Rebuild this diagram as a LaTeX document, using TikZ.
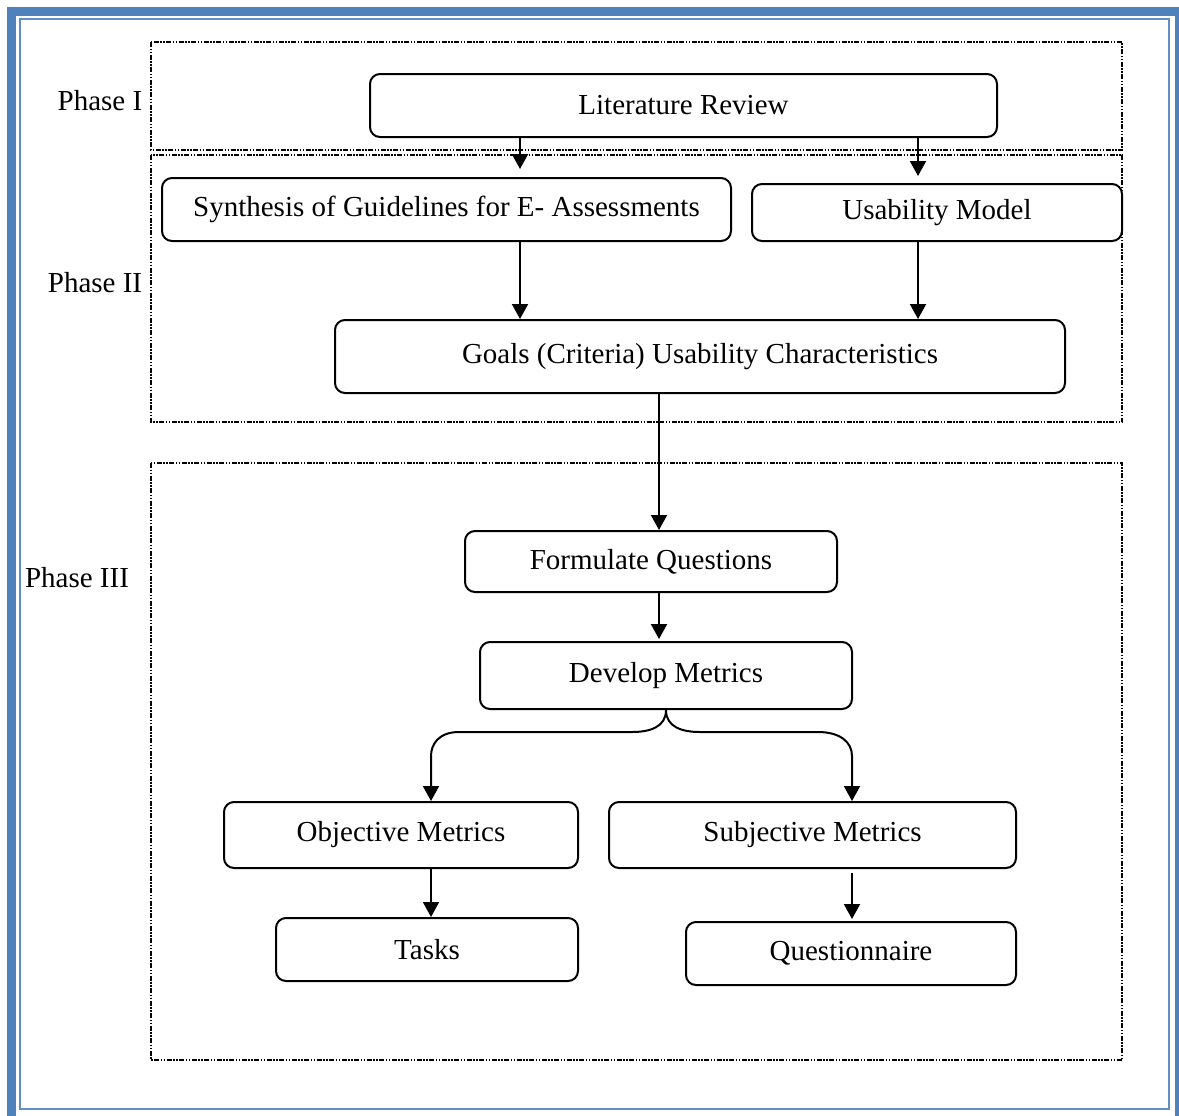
\documentclass[tikz,border=0pt]{standalone}
\usepackage{fontspec}
\setmainfont{Liberation Serif}
\usepackage{xcolor}
\definecolor{frame}{HTML}{4F81BD}
\usepackage{tikz}
\usetikzlibrary{arrows.meta, positioning, calc}

\tikzset{
  stage/.style={draw, line width=1pt, rounded corners=5pt, inner sep=0pt,
    font=\fontsize{14.5}{17}\selectfont},
  phasebox/.style={line width=1pt,
    dash pattern=on 2.5pt off 0.75pt on 0.75pt off 0.75pt on 0.75pt off 0.75pt},
  phaselabel/.style={font=\fontsize{14.5}{17}\selectfont},
  link/.style={line width=1pt, -{Triangle[width=8pt,length=7.5pt]}}
}

\begin{document}
\begin{tikzpicture}[x=0.5pt, y=-0.5pt]
  \useasboundingbox (0,0) rectangle (1179,1115);

  % blue page frame
  \draw[frame, line width=4.5pt] (11.5,11) rectangle (1179,1121);
  \draw[frame!90, line width=1pt] (20,19) rectangle (1169,1109);

  % phase frames
  \draw[phasebox] (151,42) rectangle (1122,150);
  \draw[phasebox] (151,155) rectangle (1122,422);
  \draw[phasebox] (151,463) rectangle (1122,1060);
  \node[phaselabel] (ph1) at (100,101) {Phase I};
  \node[phaselabel] (ph2) at (95,283) {Phase II};
  \node[phaselabel] (ph3) at (77,578) {Phase III};

  % stages
  \node[stage, minimum width=313.5pt, minimum height=31.5pt] (lit) at (683.5,105.5) {Literature Review};
  \node[stage, minimum width=284.5pt, minimum height=31.5pt] (syn) at (446.5,209.5) {Synthesis of Guidelines for E- Assessments};
  \node[stage, minimum width=185pt, minimum height=28.5pt] (usm) at (937,212.5) {\raisebox{-1.5pt}{Usability Model}};
  \node[stage, minimum width=365pt, minimum height=36.5pt] (goals) at (700,356.5) {Goals (Criteria) Usability Characteristics};
  \node[stage, minimum width=186pt, minimum height=30.5pt] (fq) at (651,561.5) {Formulate Questions};
  \node[stage, minimum width=186pt, minimum height=33.5pt] (dm) at (666,675.5) {Develop Metrics};
  \node[stage, minimum width=177pt, minimum height=33pt] (om) at (401,835) {Objective Metrics};
  \node[stage, minimum width=203.5pt, minimum height=33pt] (sm) at (812.5,835) {Subjective Metrics};
  \node[stage, minimum width=151pt, minimum height=31.5pt] (tasks) at (427,949.5) {Tasks};
  \node[stage, minimum width=165pt, minimum height=31.5pt] (qn) at (851,953.5) {\raisebox{-1.5pt}{Questionnaire}};

  % columns of the arrows
  \coordinate (cl) at (520,0);
  \coordinate (cr) at (918,0);
  \coordinate (cm) at (659,0);
  \coordinate (ol) at (431,0);
  \coordinate (sr) at (852,0);

  % connectors
  \draw[link, shorten >=4pt] (lit.south -| cl) -- (syn.north -| cl);
  \draw[link, shorten >=3.5pt] (lit.south -| cr) -- (usm.north -| cr);
  \draw[link] (syn.south -| cl) -- (goals.north -| cl);
  \draw[link] (usm.south -| cr) -- (goals.north -| cr);
  \draw[link] (goals.south -| cm) -- (fq.north -| cm);
  \draw[link, shorten >=1pt] (fq.south -| cm) -- (dm.north -| cm);

  % split below Develop Metrics
  \draw[link] (dm.south) .. controls +(0,17) and +(18,0) .. ++(-34,22)
    -- ($(ol|-dm.south)+(28,22)$) .. controls +(-20,0) and +(0,-12) .. ($(ol|-dm.south)+(0,46)$)
    -- (om.north -| ol);
  \draw[link] (dm.south) .. controls +(0,17) and +(-18,0) .. ++(34,22)
    -- ($(sr|-dm.south)+(-34,22)$) .. controls +(22,0) and +(0,-14) .. ($(sr|-dm.south)+(0,46)$)
    -- (sm.north -| sr);

  \draw[link] (om.south -| ol) -- (tasks.north -| ol);
  \draw[link, shorten <=2pt, shorten >=1pt] (sm.south -| sr) -- (qn.north -| sr);
\end{tikzpicture}
\end{document}
